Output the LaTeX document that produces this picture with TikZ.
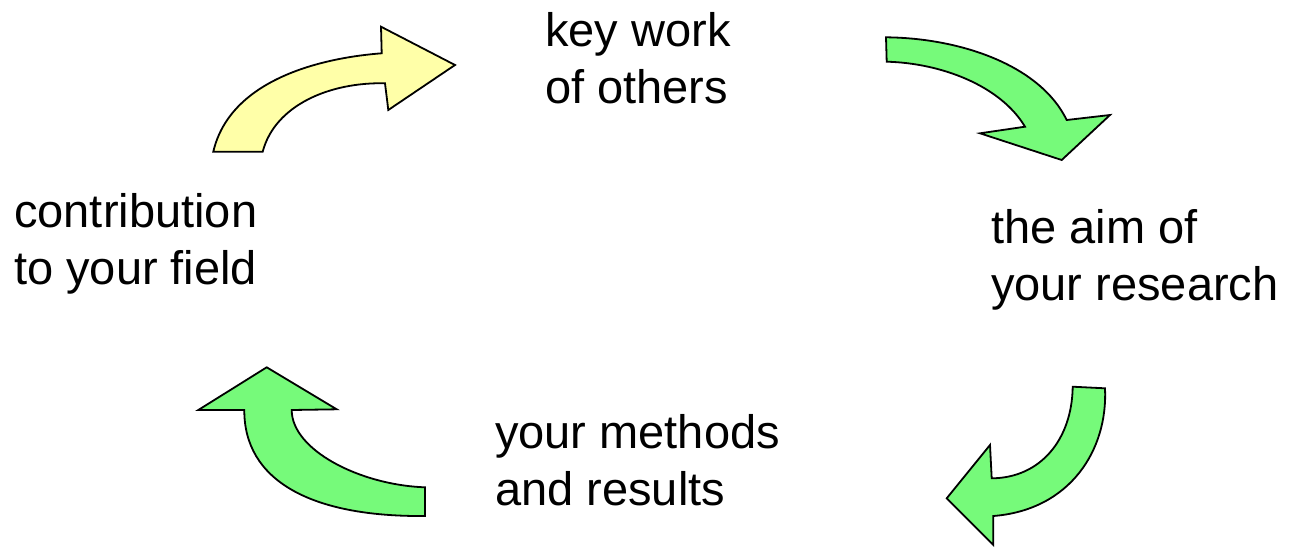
\documentclass[tikz,border=0pt]{standalone}
\usepackage{fontspec}
\setmainfont{Liberation Sans}
\definecolor{arrowyellow}{RGB}{255,255,168}
\definecolor{arrowgreen}{RGB}{118,250,122}
\begin{document}
\begin{tikzpicture}[x=1pt,y=-1pt,
  label/.style={anchor=base west,inner sep=0pt,font=\fontsize{47}{57.3}\selectfont},
  bentarrow/.style={draw=black,line width=1.8pt,line join=miter}]
\useasboundingbox (0,0) rectangle (1290,547);
% labels
\node[label] (key) at (545,46) {\begin{tabular}[t]{@{}l@{}}key work\\of others\end{tabular}};
\node[label] (aim) at (991,243.5) {\begin{tabular}[t]{@{}l@{}}the aim of\\your research\end{tabular}};
\node[label] (meth) at (495,448.5) {\begin{tabular}[t]{@{}l@{}}your methods\\and results\end{tabular}};
\node[label] (contrib) at (14,227) {\begin{tabular}[t]{@{}l@{}}contribution\\to your field\end{tabular}};
% yellow arrow: contribution -> key work
\filldraw[bentarrow,fill=arrowyellow]
  (213.3,151.7) .. controls (230,80) and (320,58) .. (381.7,53.3)
  -- (381,26.7) -- (455,65) -- (388.3,110) -- (385,83.3)
  .. controls (330,82) and (275,105) .. (262.7,151.7) -- cycle;
% green arrow: key work -> aim
\filldraw[bentarrow,fill=arrowgreen]
  (886,37.3) .. controls (960,38) and (1040,65) .. (1066.7,120)
  -- (1110,115) -- (1061.7,160) -- (980,133.3) -- (1025,126.7)
  .. controls (1000,85) and (940,63) .. (886.7,61.7) -- cycle;
% green arrow: aim -> methods
\filldraw[bentarrow,fill=arrowgreen]
  (1105,388.3) .. controls (1108,450) and (1070,510) .. (993.3,516)
  -- (993.3,545) -- (946.7,498.3) -- (990,445) -- (991.7,478.3)
  .. controls (1040,478) and (1072,440) .. (1072.7,386.7) -- cycle;
% green arrow: methods -> contribution
\filldraw[bentarrow,fill=arrowgreen]
  (425,516) .. controls (310,517) and (244,480) .. (244.3,410)
  -- (198.3,410) -- (266.7,367.3) -- (336.7,409.3) -- (291.7,410)
  .. controls (291.7,450) and (360,485) .. (425,487.3) -- cycle;
\end{tikzpicture}
\end{document}
